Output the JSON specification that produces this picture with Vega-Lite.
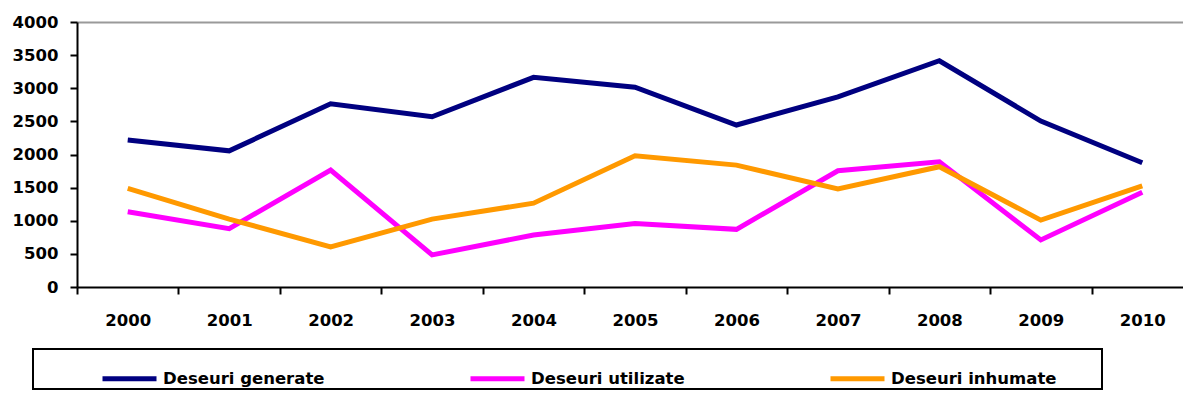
{
  "$schema": "https://vega.github.io/schema/vega-lite/v6.json",
  "width": 1106,
  "height": 265,
  "autosize": {"type": "none"},
  "padding": {"left": 77, "top": 22, "right": 0, "bottom": 120},
  "background": "white",
  "data": {
    "values": [
      {"an": "2000", "serie": "Deseuri generate", "valoare": 2220},
      {"an": "2001", "serie": "Deseuri generate", "valoare": 2055},
      {"an": "2002", "serie": "Deseuri generate", "valoare": 2765},
      {"an": "2003", "serie": "Deseuri generate", "valoare": 2570},
      {"an": "2004", "serie": "Deseuri generate", "valoare": 3165},
      {"an": "2005", "serie": "Deseuri generate", "valoare": 3015},
      {"an": "2006", "serie": "Deseuri generate", "valoare": 2445},
      {"an": "2007", "serie": "Deseuri generate", "valoare": 2870},
      {"an": "2008", "serie": "Deseuri generate", "valoare": 3415},
      {"an": "2009", "serie": "Deseuri generate", "valoare": 2505},
      {"an": "2010", "serie": "Deseuri generate", "valoare": 1875},
      {"an": "2000", "serie": "Deseuri utilizate", "valoare": 1135},
      {"an": "2001", "serie": "Deseuri utilizate", "valoare": 880},
      {"an": "2002", "serie": "Deseuri utilizate", "valoare": 1765},
      {"an": "2003", "serie": "Deseuri utilizate", "valoare": 485},
      {"an": "2004", "serie": "Deseuri utilizate", "valoare": 785},
      {"an": "2005", "serie": "Deseuri utilizate", "valoare": 960},
      {"an": "2006", "serie": "Deseuri utilizate", "valoare": 870},
      {"an": "2007", "serie": "Deseuri utilizate", "valoare": 1755},
      {"an": "2008", "serie": "Deseuri utilizate", "valoare": 1890},
      {"an": "2009", "serie": "Deseuri utilizate", "valoare": 710},
      {"an": "2010", "serie": "Deseuri utilizate", "valoare": 1430},
      {"an": "2000", "serie": "Deseuri inhumate", "valoare": 1490},
      {"an": "2001", "serie": "Deseuri inhumate", "valoare": 1025},
      {"an": "2002", "serie": "Deseuri inhumate", "valoare": 605},
      {"an": "2003", "serie": "Deseuri inhumate", "valoare": 1025},
      {"an": "2004", "serie": "Deseuri inhumate", "valoare": 1265},
      {"an": "2005", "serie": "Deseuri inhumate", "valoare": 1980},
      {"an": "2006", "serie": "Deseuri inhumate", "valoare": 1840},
      {"an": "2007", "serie": "Deseuri inhumate", "valoare": 1480},
      {"an": "2008", "serie": "Deseuri inhumate", "valoare": 1815},
      {"an": "2009", "serie": "Deseuri inhumate", "valoare": 1010},
      {"an": "2010", "serie": "Deseuri inhumate", "valoare": 1525}
    ]
  },
  "mark": {"type": "line", "strokeWidth": 5, "strokeJoin": "miter", "clip": false},
  "encoding": {
    "x": {
      "field": "an",
      "type": "ordinal",
      "bandPosition": 0.5,
      "scale": {"type": "band", "range": [0, 1116], "paddingInner": 0, "paddingOuter": 0},
      "axis": {
        "title": null,
        "labelAngle": 0,
        "tickBand": "extent",
        "tickSize": 7,
        "tickWidth": 2,
        "tickColor": "black",
        "domainColor": "black",
        "domainWidth": 2,
        "labelPadding": 18,
        "labelFont": "DejaVu Sans",
        "labelFontWeight": "bold",
        "labelFontSize": 16.5,
        "labelColor": "black",
        "grid": false
      }
    },
    "y": {
      "field": "valoare",
      "type": "quantitative",
      "scale": {"domain": [0, 4000], "nice": false},
      "axis": {
        "title": null,
        "format": "d",
        "values": [0, 500, 1000, 1500, 2000, 2500, 3000, 3500, 4000],
        "tickSize": 7,
        "tickWidth": 2,
        "tickColor": "black",
        "domainColor": "black",
        "domainWidth": 2,
        "labelPadding": 12,
        "labelFont": "DejaVu Sans",
        "labelFontWeight": "bold",
        "labelFontSize": 16.5,
        "labelColor": "black",
        "grid": true,
        "gridColor": "#9a9a9a",
        "gridWidth": 2,
        "gridOpacity": {"condition": {"test": "datum.value === 4000", "value": 1}, "value": 0}
      }
    },
    "color": {
      "field": "serie",
      "type": "nominal",
      "scale": {
        "domain": ["Deseuri generate", "Deseuri utilizate", "Deseuri inhumate"],
        "range": ["#000080", "#FF00FF", "#FF9900"]
      },
      "legend": {
        "orient": "none",
        "legendX": -44,
        "legendY": 327,
        "direction": "horizontal",
        "columns": 3,
        "columnPadding": 135,
        "title": "\u00a0",
        "titleOrient": "left",
        "titlePadding": 67,
        "titleFontSize": 16,
        "padding": 0,
        "strokeColor": "black",
        "symbolType": "stroke",
        "symbolSize": 2916,
        "symbolStrokeWidth": 5,
        "labelOffset": 4,
        "labelFont": "DejaVu Sans",
        "labelFontWeight": "bold",
        "labelFontSize": 16.5,
        "labelColor": "black",
        "labelLimit": 500,
        "labelExpr": "datum.label + (indexof(datum.label, 'inhumate') >= 0 ? '\u2003\u2003\u2002\u2005\u200b' : '')"
      }
    }
  },
  "config": {
    "view": {"stroke": null},
    "legend": {"strokeWidth": 2}
  }
}
